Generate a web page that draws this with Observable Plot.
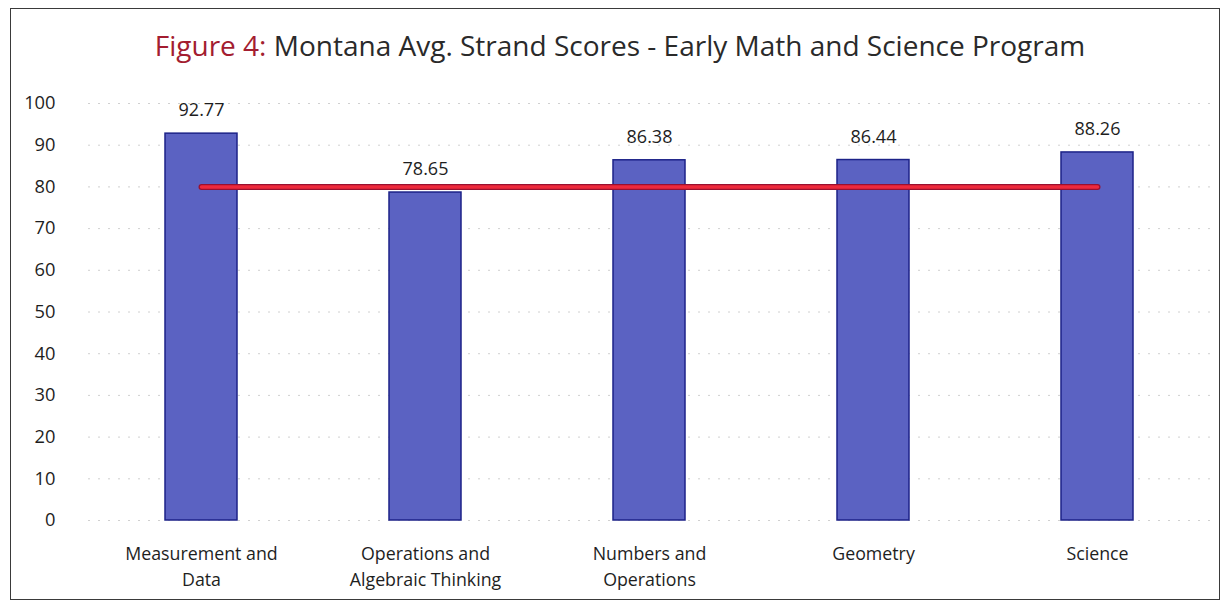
<!DOCTYPE html>
<html>
<head>
<meta charset="utf-8">
<script src="https://cdn.jsdelivr.net/npm/d3@7"></script>
<script src="https://cdn.jsdelivr.net/npm/@observablehq/plot@0.6"></script>
<style>
  body { margin: 0; background: #fff; font-family: "Open Sans", sans-serif; }
  #frame { position: absolute; left: 10px; top: 8px; width: 1208px; height: 590px; border: 1.5px solid #3a3a3a; pointer-events: none; }
  #title { height: 83px; box-sizing: border-box; padding-top: 28px; text-align: center; font-size: 28px; color: #2a2a2a; line-height: 34px; padding-left: 10px; }
  #title .fig { color: #a31d30; }
</style>
</head>
<body>
<div id="frame"></div>
<div id="title"><span class="fig">Figure 4:</span> Montana Avg. Strand Scores - Early Math and Science Program</div>
<div id="chart"></div>
<script>
const categories = ["Measurement and\nData", "Operations and\nAlgebraic Thinking", "Numbers and\nOperations", "Geometry", "Science"];
const scores = [92.77, 78.65, 86.38, 86.44, 88.26];
const target = 80;
const yTicks = [0, 10, 20, 30, 40, 50, 60, 70, 80, 90, 100];

const data = categories.map((c, i) => ({category: c, score: scores[i]}));

const chart = Plot.plot({
  width: 1230,
  height: 517,
  marginLeft: 88,
  marginRight: 20,
  marginTop: 20,
  marginBottom: 80,
  style: {fontFamily: "Open Sans, sans-serif", fontSize: "18px", color: "#1e1e1e", background: "transparent"},
  x: {domain: categories, paddingInner: 0.68, paddingOuter: 0.34, label: null},
  y: {domain: [0, 100], ticks: yTicks, label: null},
  marks: [
    Plot.gridY(yTicks, {stroke: "#b0b0b0", strokeOpacity: 0.6, strokeDasharray: "2,8"}),
    Plot.barY(data, {x: "category", y: "score", fill: "#5b62c2", stroke: "#1c2288", strokeWidth: 1.5}),
    Plot.text(data, {x: "category", y: "score", text: d => d.score.toFixed(2), dy: -23, fontSize: 18, fill: "#1e1e1e"}),
    Plot.line(categories, {x: d => d, y: () => target, stroke: "#9a1030", strokeWidth: 6}),
    Plot.line(categories, {x: d => d, y: () => target, stroke: "#ee2a3c", strokeWidth: 3.5}),
    Plot.axisY({ticks: yTicks, tickSize: 0, tickPadding: 33, fontSize: 18.3, label: null}),
    Plot.axisX({tickSize: 0, tickPadding: 21, fontSize: 17.8, label: null, lineHeight: 1.45})
  ]
});
document.getElementById("chart").appendChild(chart);
</script>
</body>
</html>
